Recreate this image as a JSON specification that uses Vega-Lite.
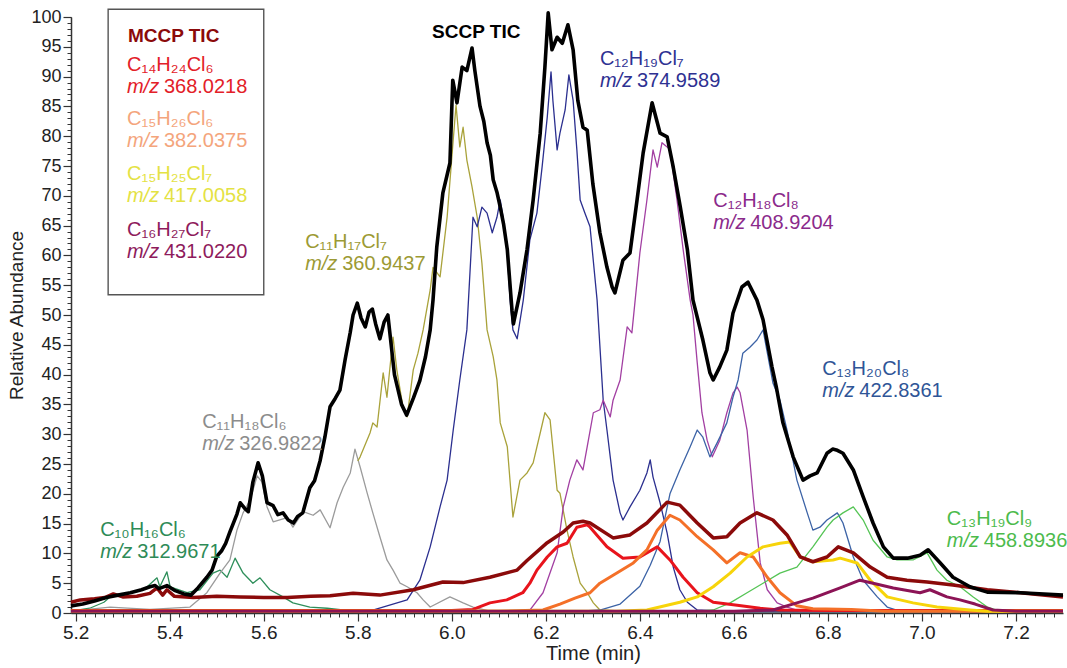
{
"$schema": "https://vega.github.io/schema/vega-lite/v6.json",
"width": 992, "height": 596,
"autosize": "none",
"padding": {"left": 71, "top": 17, "right": 4, "bottom": 55},
"background": "white",
"config": {"view": {"stroke": null}, "font": "Liberation Sans", "axis": {"grid": false}},
"datasets": {
"box": [{"t1": 5.269, "t2": 5.600, "v1": 53.4, "v2": 101.3}],
"titles": [
{"s": "MCCP TIC", "t": 5.311, "v": 96.8, "f": "MCCP TIC"},
{"s": "SCCP TIC", "t": 5.958, "v": 97.5, "f": "SCCP TIC"}
],
"labels": [
{"s": "C14H24Cl6", "t": 5.309, "v": 91.9, "v2": 88.2, "f": "C₁₄H₂₄Cl₆", "mz": "368.0218"},
{"s": "C15H26Cl6", "t": 5.309, "v": 82.9, "v2": 79.2, "f": "C₁₅H₂₆Cl₆", "mz": "382.0375"},
{"s": "C15H25Cl7", "t": 5.309, "v": 73.6, "v2": 69.9, "f": "C₁₅H₂₅Cl₇", "mz": "417.0058"},
{"s": "C16H27Cl7", "t": 5.309, "v": 64.2, "v2": 60.5, "f": "C₁₆H₂₇Cl₇", "mz": "431.0220"},
{"s": "C12H19Cl7", "t": 6.315, "v": 92.9, "v2": 89.2, "f": "C₁₂H₁₉Cl₇", "mz": "374.9589"},
{"s": "C11H17Cl7", "t": 5.688, "v": 62.3, "v2": 58.6, "f": "C₁₁H₁₇Cl₇", "mz": "360.9437"},
{"s": "C12H18Cl8", "t": 6.556, "v": 69.2, "v2": 65.5, "f": "C₁₂H₁₈Cl₈", "mz": "408.9204"},
{"s": "C11H18Cl6", "t": 5.469, "v": 32.0, "v2": 28.3, "f": "C₁₁H₁₈Cl₆", "mz": "326.9822"},
{"s": "C10H16Cl6", "t": 5.252, "v": 14.0, "v2": 10.3, "f": "C₁₀H₁₆Cl₆", "mz": "312.9671"},
{"s": "C13H20Cl8", "t": 6.788, "v": 41.0, "v2": 37.3, "f": "C₁₃H₂₀Cl₈", "mz": "422.8361"},
{"s": "C13H19Cl9", "t": 7.053, "v": 15.8, "v2": 12.1, "f": "C₁₃H₁₉Cl₉", "mz": "458.8936"}
],
"lines": [
{"s":"SCCP TIC","t":5.190,"v":1.2},{"s":"SCCP TIC","t":5.215,"v":1.5},{"s":"SCCP TIC","t":5.240,"v":2.0},{"s":"SCCP TIC","t":5.265,"v":2.6},{"s":"SCCP TIC","t":5.290,"v":3.0},{"s":"SCCP TIC","t":5.316,"v":3.4},{"s":"SCCP TIC","t":5.340,"v":3.9},{"s":"SCCP TIC","t":5.358,"v":4.4},{"s":"SCCP TIC","t":5.369,"v":4.6},{"s":"SCCP TIC","t":5.377,"v":4.1},{"s":"SCCP TIC","t":5.394,"v":4.6},{"s":"SCCP TIC","t":5.410,"v":3.8},{"s":"SCCP TIC","t":5.430,"v":3.2},{"s":"SCCP TIC","t":5.445,"v":3.0},{"s":"SCCP TIC","t":5.460,"v":4.2},{"s":"SCCP TIC","t":5.479,"v":6.0},{"s":"SCCP TIC","t":5.490,"v":7.2},{"s":"SCCP TIC","t":5.500,"v":9.5},{"s":"SCCP TIC","t":5.510,"v":10.4},{"s":"SCCP TIC","t":5.519,"v":11.7},{"s":"SCCP TIC","t":5.528,"v":13.6},{"s":"SCCP TIC","t":5.535,"v":15.0},{"s":"SCCP TIC","t":5.543,"v":16.6},{"s":"SCCP TIC","t":5.550,"v":18.5},{"s":"SCCP TIC","t":5.560,"v":17.5},{"s":"SCCP TIC","t":5.567,"v":17.0},{"s":"SCCP TIC","t":5.577,"v":22.0},{"s":"SCCP TIC","t":5.588,"v":25.2},{"s":"SCCP TIC","t":5.597,"v":23.0},{"s":"SCCP TIC","t":5.607,"v":18.5},{"s":"SCCP TIC","t":5.620,"v":18.0},{"s":"SCCP TIC","t":5.630,"v":16.5},{"s":"SCCP TIC","t":5.641,"v":16.8},{"s":"SCCP TIC","t":5.652,"v":15.6},{"s":"SCCP TIC","t":5.663,"v":15.1},{"s":"SCCP TIC","t":5.672,"v":16.2},{"s":"SCCP TIC","t":5.683,"v":16.8},{"s":"SCCP TIC","t":5.698,"v":21.0},{"s":"SCCP TIC","t":5.708,"v":22.2},{"s":"SCCP TIC","t":5.720,"v":25.6},{"s":"SCCP TIC","t":5.730,"v":29.5},{"s":"SCCP TIC","t":5.741,"v":34.6},{"s":"SCCP TIC","t":5.752,"v":36.0},{"s":"SCCP TIC","t":5.762,"v":37.4},{"s":"SCCP TIC","t":5.773,"v":42.5},{"s":"SCCP TIC","t":5.784,"v":47.1},{"s":"SCCP TIC","t":5.790,"v":50.0},{"s":"SCCP TIC","t":5.799,"v":52.0},{"s":"SCCP TIC","t":5.807,"v":49.5},{"s":"SCCP TIC","t":5.816,"v":48.0},{"s":"SCCP TIC","t":5.824,"v":50.5},{"s":"SCCP TIC","t":5.831,"v":51.0},{"s":"SCCP TIC","t":5.838,"v":48.5},{"s":"SCCP TIC","t":5.847,"v":46.0},{"s":"SCCP TIC","t":5.856,"v":48.8},{"s":"SCCP TIC","t":5.864,"v":50.0},{"s":"SCCP TIC","t":5.878,"v":40.0},{"s":"SCCP TIC","t":5.893,"v":35.0},{"s":"SCCP TIC","t":5.904,"v":33.2},{"s":"SCCP TIC","t":5.918,"v":36.0},{"s":"SCCP TIC","t":5.932,"v":39.0},{"s":"SCCP TIC","t":5.944,"v":43.0},{"s":"SCCP TIC","t":5.954,"v":47.5},{"s":"SCCP TIC","t":5.960,"v":52.5},{"s":"SCCP TIC","t":5.968,"v":61.4},{"s":"SCCP TIC","t":5.981,"v":70.5},{"s":"SCCP TIC","t":5.996,"v":75.5},{"s":"SCCP TIC","t":6.002,"v":89.4},{"s":"SCCP TIC","t":6.011,"v":85.6},{"s":"SCCP TIC","t":6.022,"v":91.6},{"s":"SCCP TIC","t":6.032,"v":91.0},{"s":"SCCP TIC","t":6.043,"v":94.8},{"s":"SCCP TIC","t":6.049,"v":91.0},{"s":"SCCP TIC","t":6.060,"v":85.0},{"s":"SCCP TIC","t":6.068,"v":82.5},{"s":"SCCP TIC","t":6.075,"v":78.9},{"s":"SCCP TIC","t":6.082,"v":76.8},{"s":"SCCP TIC","t":6.088,"v":72.7},{"s":"SCCP TIC","t":6.096,"v":70.6},{"s":"SCCP TIC","t":6.103,"v":68.1},{"s":"SCCP TIC","t":6.110,"v":65.3},{"s":"SCCP TIC","t":6.118,"v":61.0},{"s":"SCCP TIC","t":6.128,"v":50.8},{"s":"SCCP TIC","t":6.131,"v":48.5},{"s":"SCCP TIC","t":6.145,"v":53.7},{"s":"SCCP TIC","t":6.160,"v":61.0},{"s":"SCCP TIC","t":6.173,"v":69.3},{"s":"SCCP TIC","t":6.188,"v":80.5},{"s":"SCCP TIC","t":6.198,"v":91.6},{"s":"SCCP TIC","t":6.205,"v":100.7},{"s":"SCCP TIC","t":6.213,"v":94.5},{"s":"SCCP TIC","t":6.224,"v":96.6},{"s":"SCCP TIC","t":6.235,"v":95.6},{"s":"SCCP TIC","t":6.247,"v":98.7},{"s":"SCCP TIC","t":6.258,"v":94.5},{"s":"SCCP TIC","t":6.268,"v":86.0},{"s":"SCCP TIC","t":6.279,"v":81.5},{"s":"SCCP TIC","t":6.288,"v":81.0},{"s":"SCCP TIC","t":6.300,"v":72.0},{"s":"SCCP TIC","t":6.315,"v":63.8},{"s":"SCCP TIC","t":6.330,"v":58.0},{"s":"SCCP TIC","t":6.341,"v":54.7},{"s":"SCCP TIC","t":6.347,"v":53.7},{"s":"SCCP TIC","t":6.364,"v":59.2},{"s":"SCCP TIC","t":6.379,"v":60.4},{"s":"SCCP TIC","t":6.394,"v":69.3},{"s":"SCCP TIC","t":6.407,"v":77.2},{"s":"SCCP TIC","t":6.426,"v":85.6},{"s":"SCCP TIC","t":6.443,"v":80.5},{"s":"SCCP TIC","t":6.458,"v":79.9},{"s":"SCCP TIC","t":6.471,"v":74.8},{"s":"SCCP TIC","t":6.486,"v":68.1},{"s":"SCCP TIC","t":6.501,"v":61.0},{"s":"SCCP TIC","t":6.513,"v":52.5},{"s":"SCCP TIC","t":6.534,"v":45.8},{"s":"SCCP TIC","t":6.549,"v":40.3},{"s":"SCCP TIC","t":6.556,"v":39.1},{"s":"SCCP TIC","t":6.570,"v":41.3},{"s":"SCCP TIC","t":6.585,"v":44.1},{"s":"SCCP TIC","t":6.598,"v":50.3},{"s":"SCCP TIC","t":6.617,"v":54.7},{"s":"SCCP TIC","t":6.630,"v":55.5},{"s":"SCCP TIC","t":6.649,"v":52.5},{"s":"SCCP TIC","t":6.662,"v":49.2},{"s":"SCCP TIC","t":6.681,"v":41.3},{"s":"SCCP TIC","t":6.690,"v":38.0},{"s":"SCCP TIC","t":6.704,"v":32.0},{"s":"SCCP TIC","t":6.726,"v":26.2},{"s":"SCCP TIC","t":6.747,"v":22.3},{"s":"SCCP TIC","t":6.762,"v":23.0},{"s":"SCCP TIC","t":6.777,"v":23.5},{"s":"SCCP TIC","t":6.798,"v":26.8},{"s":"SCCP TIC","t":6.810,"v":27.5},{"s":"SCCP TIC","t":6.820,"v":27.3},{"s":"SCCP TIC","t":6.832,"v":26.8},{"s":"SCCP TIC","t":6.854,"v":24.0},{"s":"SCCP TIC","t":6.875,"v":19.5},{"s":"SCCP TIC","t":6.896,"v":15.1},{"s":"SCCP TIC","t":6.918,"v":11.1},{"s":"SCCP TIC","t":6.939,"v":9.2},{"s":"SCCP TIC","t":6.969,"v":9.2},{"s":"SCCP TIC","t":6.996,"v":9.7},{"s":"SCCP TIC","t":7.013,"v":10.6},{"s":"SCCP TIC","t":7.039,"v":8.4},{"s":"SCCP TIC","t":7.066,"v":6.0},{"s":"SCCP TIC","t":7.102,"v":4.4},{"s":"SCCP TIC","t":7.139,"v":3.5},{"s":"SCCP TIC","t":7.209,"v":3.4},{"s":"SCCP TIC","t":7.300,"v":3.0},

{"s":"MCCP TIC","t":5.190,"v":1.8},{"s":"MCCP TIC","t":5.210,"v":2.2},{"s":"MCCP TIC","t":5.240,"v":2.4},{"s":"MCCP TIC","t":5.262,"v":2.6},{"s":"MCCP TIC","t":5.280,"v":3.2},{"s":"MCCP TIC","t":5.300,"v":2.7},{"s":"MCCP TIC","t":5.330,"v":2.8},{"s":"MCCP TIC","t":5.358,"v":3.3},{"s":"MCCP TIC","t":5.373,"v":4.2},{"s":"MCCP TIC","t":5.385,"v":3.0},{"s":"MCCP TIC","t":5.394,"v":3.9},{"s":"MCCP TIC","t":5.410,"v":2.8},{"s":"MCCP TIC","t":5.450,"v":2.6},{"s":"MCCP TIC","t":5.500,"v":2.8},{"s":"MCCP TIC","t":5.550,"v":2.7},{"s":"MCCP TIC","t":5.600,"v":2.6},{"s":"MCCP TIC","t":5.650,"v":2.6},{"s":"MCCP TIC","t":5.700,"v":2.8},{"s":"MCCP TIC","t":5.741,"v":2.9},{"s":"MCCP TIC","t":5.790,"v":3.3},{"s":"MCCP TIC","t":5.847,"v":3.0},{"s":"MCCP TIC","t":5.918,"v":3.9},{"s":"MCCP TIC","t":5.981,"v":5.2},{"s":"MCCP TIC","t":6.024,"v":5.1},{"s":"MCCP TIC","t":6.081,"v":6.0},{"s":"MCCP TIC","t":6.139,"v":7.2},{"s":"MCCP TIC","t":6.160,"v":8.8},{"s":"MCCP TIC","t":6.203,"v":11.8},{"s":"MCCP TIC","t":6.237,"v":13.6},{"s":"MCCP TIC","t":6.258,"v":15.1},{"s":"MCCP TIC","t":6.279,"v":15.4},{"s":"MCCP TIC","t":6.294,"v":15.1},{"s":"MCCP TIC","t":6.343,"v":12.6},{"s":"MCCP TIC","t":6.379,"v":13.1},{"s":"MCCP TIC","t":6.415,"v":15.1},{"s":"MCCP TIC","t":6.458,"v":18.6},{"s":"MCCP TIC","t":6.485,"v":18.1},{"s":"MCCP TIC","t":6.522,"v":15.1},{"s":"MCCP TIC","t":6.556,"v":12.6},{"s":"MCCP TIC","t":6.585,"v":12.8},{"s":"MCCP TIC","t":6.613,"v":15.1},{"s":"MCCP TIC","t":6.649,"v":16.8},{"s":"MCCP TIC","t":6.683,"v":15.6},{"s":"MCCP TIC","t":6.713,"v":13.1},{"s":"MCCP TIC","t":6.741,"v":9.4},{"s":"MCCP TIC","t":6.768,"v":8.6},{"s":"MCCP TIC","t":6.798,"v":9.4},{"s":"MCCP TIC","t":6.822,"v":11.1},{"s":"MCCP TIC","t":6.854,"v":10.1},{"s":"MCCP TIC","t":6.890,"v":7.7},{"s":"MCCP TIC","t":6.926,"v":6.0},{"s":"MCCP TIC","t":6.968,"v":5.5},{"s":"MCCP TIC","t":7.011,"v":5.2},{"s":"MCCP TIC","t":7.066,"v":4.7},{"s":"MCCP TIC","t":7.139,"v":3.9},{"s":"MCCP TIC","t":7.209,"v":3.4},{"s":"MCCP TIC","t":7.300,"v":2.7},

{"s":"C14H24Cl6","t":5.190,"v":0.4},{"s":"C14H24Cl6","t":6.000,"v":0.4},{"s":"C14H24Cl6","t":6.045,"v":0.6},{"s":"C14H24Cl6","t":6.081,"v":1.7},{"s":"C14H24Cl6","t":6.117,"v":2.2},{"s":"C14H24Cl6","t":6.151,"v":3.4},{"s":"C14H24Cl6","t":6.166,"v":5.0},{"s":"C14H24Cl6","t":6.181,"v":7.2},{"s":"C14H24Cl6","t":6.203,"v":9.4},{"s":"C14H24Cl6","t":6.224,"v":11.1},{"s":"C14H24Cl6","t":6.245,"v":11.7},{"s":"C14H24Cl6","t":6.266,"v":14.4},{"s":"C14H24Cl6","t":6.288,"v":14.8},{"s":"C14H24Cl6","t":6.294,"v":14.4},{"s":"C14H24Cl6","t":6.330,"v":11.1},{"s":"C14H24Cl6","t":6.364,"v":9.2},{"s":"C14H24Cl6","t":6.400,"v":9.4},{"s":"C14H24Cl6","t":6.437,"v":11.1},{"s":"C14H24Cl6","t":6.464,"v":8.9},{"s":"C14H24Cl6","t":6.492,"v":6.0},{"s":"C14H24Cl6","t":6.522,"v":3.4},{"s":"C14H24Cl6","t":6.556,"v":1.8},{"s":"C14H24Cl6","t":6.607,"v":1.3},{"s":"C14H24Cl6","t":6.656,"v":0.8},{"s":"C14H24Cl6","t":6.698,"v":0.5},{"s":"C14H24Cl6","t":6.800,"v":0.4},{"s":"C14H24Cl6","t":7.300,"v":0.4},

{"s":"C15H26Cl6","t":5.190,"v":0.3},{"s":"C15H26Cl6","t":6.100,"v":0.3},{"s":"C15H26Cl6","t":6.194,"v":0.5},{"s":"C15H26Cl6","t":6.230,"v":1.5},{"s":"C15H26Cl6","t":6.262,"v":2.5},{"s":"C15H26Cl6","t":6.294,"v":3.4},{"s":"C15H26Cl6","t":6.315,"v":5.0},{"s":"C15H26Cl6","t":6.351,"v":6.7},{"s":"C15H26Cl6","t":6.386,"v":8.4},{"s":"C15H26Cl6","t":6.415,"v":10.6},{"s":"C15H26Cl6","t":6.437,"v":13.9},{"s":"C15H26Cl6","t":6.464,"v":16.4},{"s":"C15H26Cl6","t":6.485,"v":15.6},{"s":"C15H26Cl6","t":6.522,"v":12.8},{"s":"C15H26Cl6","t":6.556,"v":10.6},{"s":"C15H26Cl6","t":6.585,"v":8.4},{"s":"C15H26Cl6","t":6.613,"v":10.1},{"s":"C15H26Cl6","t":6.641,"v":9.4},{"s":"C15H26Cl6","t":6.671,"v":6.0},{"s":"C15H26Cl6","t":6.698,"v":3.4},{"s":"C15H26Cl6","t":6.734,"v":1.2},{"s":"C15H26Cl6","t":6.768,"v":0.7},{"s":"C15H26Cl6","t":6.850,"v":0.6},{"s":"C15H26Cl6","t":6.920,"v":0.3},{"s":"C15H26Cl6","t":7.300,"v":0.3},

{"s":"C15H25Cl7","t":5.190,"v":0.3},{"s":"C15H25Cl7","t":6.350,"v":0.3},{"s":"C15H25Cl7","t":6.415,"v":0.5},{"s":"C15H25Cl7","t":6.485,"v":1.8},{"s":"C15H25Cl7","t":6.522,"v":2.7},{"s":"C15H25Cl7","t":6.556,"v":4.4},{"s":"C15H25Cl7","t":6.592,"v":6.7},{"s":"C15H25Cl7","t":6.628,"v":9.4},{"s":"C15H25Cl7","t":6.662,"v":11.1},{"s":"C15H25Cl7","t":6.698,"v":11.7},{"s":"C15H25Cl7","t":6.719,"v":11.9},{"s":"C15H25Cl7","t":6.741,"v":9.4},{"s":"C15H25Cl7","t":6.768,"v":8.6},{"s":"C15H25Cl7","t":6.811,"v":8.9},{"s":"C15H25Cl7","t":6.826,"v":9.2},{"s":"C15H25Cl7","t":6.862,"v":8.4},{"s":"C15H25Cl7","t":6.890,"v":5.5},{"s":"C15H25Cl7","t":6.926,"v":2.7},{"s":"C15H25Cl7","t":6.981,"v":1.7},{"s":"C15H25Cl7","t":7.032,"v":1.0},{"s":"C15H25Cl7","t":7.102,"v":0.5},{"s":"C15H25Cl7","t":7.139,"v":0.3},{"s":"C15H25Cl7","t":7.300,"v":0.3},

{"s":"C16H27Cl7","t":5.190,"v":0.3},{"s":"C16H27Cl7","t":6.600,"v":0.3},{"s":"C16H27Cl7","t":6.683,"v":0.5},{"s":"C16H27Cl7","t":6.734,"v":1.7},{"s":"C16H27Cl7","t":6.768,"v":2.5},{"s":"C16H27Cl7","t":6.826,"v":4.2},{"s":"C16H27Cl7","t":6.868,"v":5.5},{"s":"C16H27Cl7","t":6.896,"v":5.0},{"s":"C16H27Cl7","t":6.939,"v":4.2},{"s":"C16H27Cl7","t":6.996,"v":3.4},{"s":"C16H27Cl7","t":7.017,"v":3.9},{"s":"C16H27Cl7","t":7.053,"v":2.7},{"s":"C16H27Cl7","t":7.081,"v":2.2},{"s":"C16H27Cl7","t":7.113,"v":1.5},{"s":"C16H27Cl7","t":7.151,"v":0.5},{"s":"C16H27Cl7","t":7.200,"v":0.3},{"s":"C16H27Cl7","t":7.300,"v":0.3},

{"s":"C10H16Cl6","t":5.190,"v":0.3},{"s":"C10H16Cl6","t":5.230,"v":0.8},{"s":"C10H16Cl6","t":5.260,"v":1.8},{"s":"C10H16Cl6","t":5.273,"v":2.7},{"s":"C10H16Cl6","t":5.300,"v":3.0},{"s":"C10H16Cl6","t":5.330,"v":3.6},{"s":"C10H16Cl6","t":5.352,"v":4.4},{"s":"C10H16Cl6","t":5.373,"v":5.9},{"s":"C10H16Cl6","t":5.379,"v":4.4},{"s":"C10H16Cl6","t":5.394,"v":6.9},{"s":"C10H16Cl6","t":5.401,"v":4.4},{"s":"C10H16Cl6","t":5.437,"v":3.4},{"s":"C10H16Cl6","t":5.464,"v":3.9},{"s":"C10H16Cl6","t":5.492,"v":6.7},{"s":"C10H16Cl6","t":5.507,"v":7.2},{"s":"C10H16Cl6","t":5.522,"v":6.0},{"s":"C10H16Cl6","t":5.539,"v":9.2},{"s":"C10H16Cl6","t":5.556,"v":6.7},{"s":"C10H16Cl6","t":5.577,"v":5.0},{"s":"C10H16Cl6","t":5.592,"v":5.9},{"s":"C10H16Cl6","t":5.613,"v":3.9},{"s":"C10H16Cl6","t":5.641,"v":2.7},{"s":"C10H16Cl6","t":5.662,"v":1.7},{"s":"C10H16Cl6","t":5.698,"v":1.0},{"s":"C10H16Cl6","t":5.735,"v":0.8},{"s":"C10H16Cl6","t":5.805,"v":0.2},{"s":"C10H16Cl6","t":7.300,"v":0.2},

{"s":"C11H18Cl6","t":5.190,"v":0.3},{"s":"C11H18Cl6","t":5.273,"v":1.0},{"s":"C11H18Cl6","t":5.358,"v":0.6},{"s":"C11H18Cl6","t":5.443,"v":1.0},{"s":"C11H18Cl6","t":5.479,"v":3.4},{"s":"C11H18Cl6","t":5.507,"v":6.7},{"s":"C11H18Cl6","t":5.528,"v":8.9},{"s":"C11H18Cl6","t":5.543,"v":13.9},{"s":"C11H18Cl6","t":5.556,"v":16.8},{"s":"C11H18Cl6","t":5.571,"v":19.0},{"s":"C11H18Cl6","t":5.586,"v":23.0},{"s":"C11H18Cl6","t":5.596,"v":22.0},{"s":"C11H18Cl6","t":5.607,"v":17.8},{"s":"C11H18Cl6","t":5.620,"v":15.3},{"s":"C11H18Cl6","t":5.650,"v":16.0},{"s":"C11H18Cl6","t":5.662,"v":14.4},{"s":"C11H18Cl6","t":5.684,"v":17.0},{"s":"C11H18Cl6","t":5.705,"v":16.4},{"s":"C11H18Cl6","t":5.720,"v":17.3},{"s":"C11H18Cl6","t":5.741,"v":14.3},{"s":"C11H18Cl6","t":5.756,"v":18.5},{"s":"C11H18Cl6","t":5.769,"v":21.1},{"s":"C11H18Cl6","t":5.784,"v":23.5},{"s":"C11H18Cl6","t":5.794,"v":27.5},{"s":"C11H18Cl6","t":5.805,"v":24.5},{"s":"C11H18Cl6","t":5.820,"v":20.1},{"s":"C11H18Cl6","t":5.832,"v":16.8},{"s":"C11H18Cl6","t":5.847,"v":12.8},{"s":"C11H18Cl6","t":5.862,"v":8.9},{"s":"C11H18Cl6","t":5.875,"v":7.2},{"s":"C11H18Cl6","t":5.890,"v":5.0},{"s":"C11H18Cl6","t":5.905,"v":4.4},{"s":"C11H18Cl6","t":5.926,"v":3.4},{"s":"C11H18Cl6","t":5.939,"v":2.2},{"s":"C11H18Cl6","t":5.954,"v":1.0},{"s":"C11H18Cl6","t":5.996,"v":2.7},{"s":"C11H18Cl6","t":6.024,"v":1.7},{"s":"C11H18Cl6","t":6.045,"v":1.0},{"s":"C11H18Cl6","t":6.081,"v":0.3},{"s":"C11H18Cl6","t":7.300,"v":0.3},

{"s":"C11H17Cl7","t":5.800,"v":25.5},{"s":"C11H17Cl7","t":5.805,"v":26.2},{"s":"C11H17Cl7","t":5.826,"v":30.2},{"s":"C11H17Cl7","t":5.832,"v":31.9},{"s":"C11H17Cl7","t":5.841,"v":31.2},{"s":"C11H17Cl7","t":5.854,"v":40.3},{"s":"C11H17Cl7","t":5.862,"v":36.2},{"s":"C11H17Cl7","t":5.875,"v":46.3},{"s":"C11H17Cl7","t":5.883,"v":40.8},{"s":"C11H17Cl7","t":5.896,"v":34.6},{"s":"C11H17Cl7","t":5.905,"v":32.9},{"s":"C11H17Cl7","t":5.918,"v":40.8},{"s":"C11H17Cl7","t":5.928,"v":43.6},{"s":"C11H17Cl7","t":5.939,"v":47.5},{"s":"C11H17Cl7","t":5.954,"v":54.2},{"s":"C11H17Cl7","t":5.960,"v":58.0},{"s":"C11H17Cl7","t":5.975,"v":56.4},{"s":"C11H17Cl7","t":5.990,"v":66.4},{"s":"C11H17Cl7","t":6.003,"v":79.4},{"s":"C11H17Cl7","t":6.009,"v":85.2},{"s":"C11H17Cl7","t":6.017,"v":78.2},{"s":"C11H17Cl7","t":6.024,"v":81.5},{"s":"C11H17Cl7","t":6.032,"v":76.0},{"s":"C11H17Cl7","t":6.043,"v":71.5},{"s":"C11H17Cl7","t":6.054,"v":66.4},{"s":"C11H17Cl7","t":6.064,"v":58.7},{"s":"C11H17Cl7","t":6.075,"v":47.5},{"s":"C11H17Cl7","t":6.088,"v":43.0},{"s":"C11H17Cl7","t":6.096,"v":39.1},{"s":"C11H17Cl7","t":6.103,"v":31.9},{"s":"C11H17Cl7","t":6.118,"v":27.9},{"s":"C11H17Cl7","t":6.130,"v":16.1},{"s":"C11H17Cl7","t":6.145,"v":22.3},{"s":"C11H17Cl7","t":6.160,"v":23.5},{"s":"C11H17Cl7","t":6.173,"v":25.2},{"s":"C11H17Cl7","t":6.188,"v":30.2},{"s":"C11H17Cl7","t":6.198,"v":33.6},{"s":"C11H17Cl7","t":6.209,"v":32.4},{"s":"C11H17Cl7","t":6.224,"v":20.6},{"s":"C11H17Cl7","t":6.230,"v":20.1},{"s":"C11H17Cl7","t":6.245,"v":13.9},{"s":"C11H17Cl7","t":6.258,"v":9.4},{"s":"C11H17Cl7","t":6.273,"v":5.0},{"s":"C11H17Cl7","t":6.288,"v":3.4},{"s":"C11H17Cl7","t":6.301,"v":1.7},{"s":"C11H17Cl7","t":6.315,"v":0.5},{"s":"C11H17Cl7","t":6.400,"v":0.2},{"s":"C11H17Cl7","t":7.300,"v":0.2},

{"s":"C12H19Cl7","t":5.190,"v":0.2},{"s":"C12H19Cl7","t":5.800,"v":0.2},{"s":"C12H19Cl7","t":5.832,"v":0.5},{"s":"C12H19Cl7","t":5.905,"v":2.2},{"s":"C12H19Cl7","t":5.932,"v":5.5},{"s":"C12H19Cl7","t":5.954,"v":11.1},{"s":"C12H19Cl7","t":5.975,"v":17.8},{"s":"C12H19Cl7","t":5.990,"v":22.3},{"s":"C12H19Cl7","t":6.003,"v":30.7},{"s":"C12H19Cl7","t":6.017,"v":39.1},{"s":"C12H19Cl7","t":6.032,"v":47.5},{"s":"C12H19Cl7","t":6.045,"v":66.4},{"s":"C12H19Cl7","t":6.054,"v":64.8},{"s":"C12H19Cl7","t":6.064,"v":68.1},{"s":"C12H19Cl7","t":6.075,"v":67.1},{"s":"C12H19Cl7","t":6.086,"v":63.8},{"s":"C12H19Cl7","t":6.096,"v":66.4},{"s":"C12H19Cl7","t":6.103,"v":69.3},{"s":"C12H19Cl7","t":6.109,"v":66.4},{"s":"C12H19Cl7","t":6.118,"v":60.4},{"s":"C12H19Cl7","t":6.124,"v":52.5},{"s":"C12H19Cl7","t":6.130,"v":47.5},{"s":"C12H19Cl7","t":6.139,"v":46.0},{"s":"C12H19Cl7","t":6.152,"v":52.5},{"s":"C12H19Cl7","t":6.166,"v":62.6},{"s":"C12H19Cl7","t":6.181,"v":67.1},{"s":"C12H19Cl7","t":6.192,"v":74.8},{"s":"C12H19Cl7","t":6.203,"v":83.2},{"s":"C12H19Cl7","t":6.211,"v":90.8},{"s":"C12H19Cl7","t":6.215,"v":86.0},{"s":"C12H19Cl7","t":6.224,"v":77.7},{"s":"C12H19Cl7","t":6.230,"v":80.5},{"s":"C12H19Cl7","t":6.241,"v":84.4},{"s":"C12H19Cl7","t":6.249,"v":90.3},{"s":"C12H19Cl7","t":6.258,"v":86.0},{"s":"C12H19Cl7","t":6.266,"v":77.7},{"s":"C12H19Cl7","t":6.273,"v":69.3},{"s":"C12H19Cl7","t":6.283,"v":67.1},{"s":"C12H19Cl7","t":6.294,"v":64.8},{"s":"C12H19Cl7","t":6.309,"v":52.5},{"s":"C12H19Cl7","t":6.322,"v":35.7},{"s":"C12H19Cl7","t":6.330,"v":30.7},{"s":"C12H19Cl7","t":6.343,"v":22.3},{"s":"C12H19Cl7","t":6.358,"v":16.8},{"s":"C12H19Cl7","t":6.364,"v":15.6},{"s":"C12H19Cl7","t":6.379,"v":17.8},{"s":"C12H19Cl7","t":6.400,"v":20.6},{"s":"C12H19Cl7","t":6.415,"v":23.5},{"s":"C12H19Cl7","t":6.422,"v":25.7},{"s":"C12H19Cl7","t":6.428,"v":22.8},{"s":"C12H19Cl7","t":6.443,"v":18.5},{"s":"C12H19Cl7","t":6.458,"v":13.4},{"s":"C12H19Cl7","t":6.471,"v":7.7},{"s":"C12H19Cl7","t":6.485,"v":3.9},{"s":"C12H19Cl7","t":6.501,"v":1.8},{"s":"C12H19Cl7","t":6.522,"v":0.5},{"s":"C12H19Cl7","t":6.600,"v":0.2},{"s":"C12H19Cl7","t":7.300,"v":0.2},

{"s":"C12H18Cl8","t":5.190,"v":0.2},{"s":"C12H18Cl8","t":6.100,"v":0.2},{"s":"C12H18Cl8","t":6.166,"v":0.5},{"s":"C12H18Cl8","t":6.194,"v":3.4},{"s":"C12H18Cl8","t":6.224,"v":10.1},{"s":"C12H18Cl8","t":6.237,"v":17.8},{"s":"C12H18Cl8","t":6.251,"v":22.3},{"s":"C12H18Cl8","t":6.266,"v":25.7},{"s":"C12H18Cl8","t":6.279,"v":24.0},{"s":"C12H18Cl8","t":6.288,"v":27.9},{"s":"C12H18Cl8","t":6.301,"v":33.6},{"s":"C12H18Cl8","t":6.315,"v":34.1},{"s":"C12H18Cl8","t":6.322,"v":35.7},{"s":"C12H18Cl8","t":6.337,"v":32.9},{"s":"C12H18Cl8","t":6.343,"v":35.7},{"s":"C12H18Cl8","t":6.358,"v":39.1},{"s":"C12H18Cl8","t":6.373,"v":48.0},{"s":"C12H18Cl8","t":6.383,"v":47.0},{"s":"C12H18Cl8","t":6.400,"v":60.4},{"s":"C12H18Cl8","t":6.415,"v":69.3},{"s":"C12H18Cl8","t":6.428,"v":77.7},{"s":"C12H18Cl8","t":6.437,"v":74.8},{"s":"C12H18Cl8","t":6.447,"v":78.9},{"s":"C12H18Cl8","t":6.458,"v":78.2},{"s":"C12H18Cl8","t":6.464,"v":77.7},{"s":"C12H18Cl8","t":6.479,"v":69.3},{"s":"C12H18Cl8","t":6.492,"v":61.0},{"s":"C12H18Cl8","t":6.507,"v":52.5},{"s":"C12H18Cl8","t":6.513,"v":50.0},{"s":"C12H18Cl8","t":6.522,"v":42.0},{"s":"C12H18Cl8","t":6.532,"v":33.6},{"s":"C12H18Cl8","t":6.543,"v":29.0},{"s":"C12H18Cl8","t":6.554,"v":26.2},{"s":"C12H18Cl8","t":6.570,"v":29.0},{"s":"C12H18Cl8","t":6.585,"v":33.6},{"s":"C12H18Cl8","t":6.598,"v":36.9},{"s":"C12H18Cl8","t":6.607,"v":37.9},{"s":"C12H18Cl8","t":6.613,"v":37.0},{"s":"C12H18Cl8","t":6.628,"v":30.7},{"s":"C12H18Cl8","t":6.641,"v":19.5},{"s":"C12H18Cl8","t":6.656,"v":8.4},{"s":"C12H18Cl8","t":6.671,"v":3.9},{"s":"C12H18Cl8","t":6.692,"v":1.7},{"s":"C12H18Cl8","t":6.713,"v":1.0},{"s":"C12H18Cl8","t":6.741,"v":0.3},{"s":"C12H18Cl8","t":7.300,"v":0.2},

{"s":"C13H20Cl8","t":5.190,"v":0.2},{"s":"C13H20Cl8","t":6.250,"v":0.2},{"s":"C13H20Cl8","t":6.315,"v":0.5},{"s":"C13H20Cl8","t":6.358,"v":1.5},{"s":"C13H20Cl8","t":6.400,"v":4.5},{"s":"C13H20Cl8","t":6.422,"v":8.0},{"s":"C13H20Cl8","t":6.443,"v":12.0},{"s":"C13H20Cl8","t":6.464,"v":20.0},{"s":"C13H20Cl8","t":6.485,"v":24.0},{"s":"C13H20Cl8","t":6.507,"v":27.9},{"s":"C13H20Cl8","t":6.522,"v":30.7},{"s":"C13H20Cl8","t":6.534,"v":29.5},{"s":"C13H20Cl8","t":6.549,"v":26.2},{"s":"C13H20Cl8","t":6.564,"v":28.5},{"s":"C13H20Cl8","t":6.585,"v":31.9},{"s":"C13H20Cl8","t":6.598,"v":36.2},{"s":"C13H20Cl8","t":6.609,"v":39.1},{"s":"C13H20Cl8","t":6.619,"v":43.6},{"s":"C13H20Cl8","t":6.634,"v":44.6},{"s":"C13H20Cl8","t":6.649,"v":45.8},{"s":"C13H20Cl8","t":6.662,"v":47.5},{"s":"C13H20Cl8","t":6.683,"v":38.6},{"s":"C13H20Cl8","t":6.698,"v":35.7},{"s":"C13H20Cl8","t":6.713,"v":30.7},{"s":"C13H20Cl8","t":6.734,"v":22.3},{"s":"C13H20Cl8","t":6.756,"v":16.8},{"s":"C13H20Cl8","t":6.768,"v":13.9},{"s":"C13H20Cl8","t":6.783,"v":14.4},{"s":"C13H20Cl8","t":6.798,"v":15.6},{"s":"C13H20Cl8","t":6.820,"v":16.8},{"s":"C13H20Cl8","t":6.832,"v":15.1},{"s":"C13H20Cl8","t":6.854,"v":9.4},{"s":"C13H20Cl8","t":6.875,"v":5.5},{"s":"C13H20Cl8","t":6.905,"v":2.7},{"s":"C13H20Cl8","t":6.926,"v":1.0},{"s":"C13H20Cl8","t":6.953,"v":0.3},{"s":"C13H20Cl8","t":7.300,"v":0.2},

{"s":"C13H19Cl9","t":5.190,"v":0.2},{"s":"C13H19Cl9","t":6.500,"v":0.2},{"s":"C13H19Cl9","t":6.556,"v":0.5},{"s":"C13H19Cl9","t":6.592,"v":1.7},{"s":"C13H19Cl9","t":6.628,"v":3.4},{"s":"C13H19Cl9","t":6.662,"v":5.0},{"s":"C13H19Cl9","t":6.698,"v":6.7},{"s":"C13H19Cl9","t":6.734,"v":7.7},{"s":"C13H19Cl9","t":6.768,"v":11.1},{"s":"C13H19Cl9","t":6.798,"v":14.4},{"s":"C13H19Cl9","t":6.811,"v":15.6},{"s":"C13H19Cl9","t":6.832,"v":16.8},{"s":"C13H19Cl9","t":6.854,"v":17.8},{"s":"C13H19Cl9","t":6.875,"v":15.6},{"s":"C13H19Cl9","t":6.896,"v":12.2},{"s":"C13H19Cl9","t":6.926,"v":9.4},{"s":"C13H19Cl9","t":6.947,"v":8.9},{"s":"C13H19Cl9","t":6.981,"v":8.9},{"s":"C13H19Cl9","t":7.011,"v":10.1},{"s":"C13H19Cl9","t":7.032,"v":7.2},{"s":"C13H19Cl9","t":7.053,"v":5.5},{"s":"C13H19Cl9","t":7.081,"v":4.4},{"s":"C13H19Cl9","t":7.109,"v":2.7},{"s":"C13H19Cl9","t":7.139,"v":1.0},{"s":"C13H19Cl9","t":7.166,"v":0.3},{"s":"C13H19Cl9","t":7.300,"v":0.2}
]
},
"resolve": {"axis": {"x": "independent", "y": "independent"}},
"layer": [
{
"data": {"name": "box"},
"mark": {"type": "rect", "fill": "white", "stroke": "#555555", "strokeWidth": 1.4},
"encoding": {
"x": {"field": "t1", "type": "quantitative", "scale": {"domain": [5.19, 7.3], "nice": false, "zero": false},
 "axis": {"orient": "bottom", "values": [5.2,5.22,5.24,5.26,5.28,5.3,5.32,5.34,5.36,5.38,5.4,5.42,5.44,5.46,5.48,5.5,5.52,5.54,5.56,5.58,5.6,5.62,5.64,5.66,5.68,5.7,5.72,5.74,5.76,5.78,5.8,5.82,5.84,5.86,5.88,5.9,5.92,5.94,5.96,5.98,6.0,6.02,6.04,6.06,6.08,6.1,6.12,6.14,6.16,6.18,6.2,6.22,6.24,6.26,6.28,6.3,6.32,6.34,6.36,6.38,6.4,6.42,6.44,6.46,6.48,6.5,6.52,6.54,6.56,6.58,6.6,6.62,6.64,6.66,6.68,6.7,6.72,6.74,6.76,6.78,6.8,6.82,6.84,6.86,6.88,6.9,6.92,6.94,6.96,6.98,7.0,7.02,7.04,7.06,7.08,7.1,7.12,7.14,7.16,7.18,7.2,7.22,7.24,7.26,7.28], "tickSize": 4, "tickColor": "#333333", "tickWidth": 1, "labels": false, "domain": false, "title": null, "grid": false}},
"x2": {"field": "t2"},
"y": {"field": "v1", "type": "quantitative", "scale": {"domain": [0, 100], "nice": false},
 "axis": {"orient": "left", "values": [0,1,2,3,4,5,6,7,8,9,10,11,12,13,14,15,16,17,18,19,20,21,22,23,24,25,26,27,28,29,30,31,32,33,34,35,36,37,38,39,40,41,42,43,44,45,46,47,48,49,50,51,52,53,54,55,56,57,58,59,60,61,62,63,64,65,66,67,68,69,70,71,72,73,74,75,76,77,78,79,80,81,82,83,84,85,86,87,88,89,90,91,92,93,94,95,96,97,98,99,100], "tickSize": 4, "tickColor": "#333333", "tickWidth": 1, "labels": false, "domain": false, "title": null, "grid": false}},
"y2": {"field": "v2"}
}
},
{
"data": {"name": "lines"},
"transform": [{"filter": {"field": "s", "oneOf": ["C10H16Cl6", "C11H18Cl6", "C11H17Cl7", "C12H19Cl7", "C12H18Cl8", "C13H20Cl8", "C13H19Cl9"]}}],
"mark": {"type": "line", "strokeWidth": 1.3, "strokeJoin": "round"},
"encoding": {
"x": {"field": "t", "type": "quantitative", "axis": {"orient": "bottom", "values": [5.2,5.4,5.6,5.8,6.0,6.2,6.4,6.6,6.8,7.0,7.2], "format": ".1f", "tickSize": 8, "tickColor": "#333333", "tickWidth": 1.2, "domainColor": "#333333", "domainWidth": 1.5, "labelFontSize": 19, "labelColor": "#222222", "labelPadding": 2, "labelFont": "Liberation Sans", "title": "Time (min)", "titleFont": "Liberation Sans", "titleFontSize": 20, "titleFontWeight": "normal", "titleColor": "#222222", "titlePadding": 1, "titleX": 522, "titleAlign": "center", "grid": false}},
"y": {"field": "v", "type": "quantitative", "axis": {"orient": "left", "values": [0,5,10,15,20,25,30,35,40,45,50,55,60,65,70,75,80,85,90,95,100], "tickSize": 8, "tickColor": "#333333", "tickWidth": 1.2, "domainColor": "#333333", "domainWidth": 1.5, "labelFontSize": 18, "labelColor": "#222222", "labelPadding": 2, "labelFont": "Liberation Sans", "title": "Relative Abundance", "titleFont": "Liberation Sans", "titleFontSize": 19, "titleFontWeight": "normal", "titleColor": "#222222", "titlePadding": 4, "grid": false}},
"stroke": {"field": "s", "type": "nominal", "legend": null, "scale": {"domain": ["SCCP TIC", "MCCP TIC", "C14H24Cl6", "C15H26Cl6", "C15H25Cl7", "C16H27Cl7", "C10H16Cl6", "C11H18Cl6", "C11H17Cl7", "C12H19Cl7", "C12H18Cl8", "C13H20Cl8", "C13H19Cl9"], "range": ["#000000", "#8B0A0A", "#E8141C", "#F47028", "#F7D40A", "#8C1456", "#2F8F5B", "#9B9B9B", "#A9A23A", "#2B2F8F", "#A23FA2", "#3C63A6", "#55C455"]}}
}
},
{
"data": {"name": "lines"},
"transform": [{"filter": {"field": "s", "oneOf": ["C15H25Cl7", "C15H26Cl6", "C14H24Cl6", "C16H27Cl7"]}}],
"mark": {"type": "line", "strokeWidth": 3, "strokeJoin": "round"},
"encoding": {
"x": {"field": "t", "type": "quantitative", "axis": null},
"y": {"field": "v", "type": "quantitative", "axis": null},
"stroke": {"field": "s", "type": "nominal", "legend": null}
}
},
{
"data": {"name": "lines"},
"transform": [{"filter": {"field": "s", "equal": "MCCP TIC"}}],
"mark": {"type": "line", "strokeWidth": 3.5, "strokeJoin": "round"},
"encoding": {
"x": {"field": "t", "type": "quantitative", "axis": null},
"y": {"field": "v", "type": "quantitative", "axis": null},
"stroke": {"field": "s", "type": "nominal", "legend": null}
}
},
{
"data": {"name": "lines"},
"transform": [{"filter": {"field": "s", "equal": "SCCP TIC"}}],
"mark": {"type": "line", "strokeWidth": 3.6, "strokeJoin": "round"},
"encoding": {
"x": {"field": "t", "type": "quantitative", "axis": null},
"y": {"field": "v", "type": "quantitative", "axis": null},
"stroke": {"field": "s", "type": "nominal", "legend": null}
}
},
{
"data": {"name": "titles"},
"mark": {"type": "text", "align": "left", "baseline": "middle", "fontSize": 19, "fontWeight": "bold", "font": "Liberation Sans"},
"encoding": {
"x": {"field": "t", "type": "quantitative", "axis": null},
"y": {"field": "v", "type": "quantitative", "axis": null},
"text": {"field": "f"},
"fill": {"field": "s", "type": "nominal", "legend": null, "scale": {"domain": ["SCCP TIC", "MCCP TIC", "C14H24Cl6", "C15H26Cl6", "C15H25Cl7", "C16H27Cl7", "C10H16Cl6", "C11H18Cl6", "C11H17Cl7", "C12H19Cl7", "C12H18Cl8", "C13H20Cl8", "C13H19Cl9"], "range": ["#000000", "#8B0A0A", "#E32028", "#F4A57C", "#E4E244", "#8E1B5C", "#2E8B57", "#8C8C8C", "#9C9A34", "#2E3192", "#8B2A8B", "#2F5597", "#4CBB4C"]}}
}
},
{
"data": {"name": "labels"},
"mark": {"type": "text", "align": "left", "baseline": "middle", "fontSize": 20, "font": "Liberation Sans"},
"encoding": {
"x": {"field": "t", "type": "quantitative", "axis": null},
"y": {"field": "v", "type": "quantitative", "axis": null},
"text": {"field": "f"},
"fill": {"field": "s", "type": "nominal", "legend": null}
}
},
{
"data": {"name": "labels"},
"mark": {"type": "text", "align": "left", "baseline": "middle", "fontSize": 20, "fontStyle": "italic", "font": "Liberation Sans", "text": "m/z"},
"encoding": {
"x": {"field": "t", "type": "quantitative", "axis": null},
"y": {"field": "v2", "type": "quantitative", "axis": null},
"fill": {"field": "s", "type": "nominal", "legend": null}
}
},
{
"data": {"name": "labels"},
"mark": {"type": "text", "align": "left", "baseline": "middle", "fontSize": 20, "font": "Liberation Sans", "dx": 37},
"encoding": {
"x": {"field": "t", "type": "quantitative", "axis": null},
"y": {"field": "v2", "type": "quantitative", "axis": null},
"text": {"field": "mz"},
"fill": {"field": "s", "type": "nominal", "legend": null}
}
}
]
}
